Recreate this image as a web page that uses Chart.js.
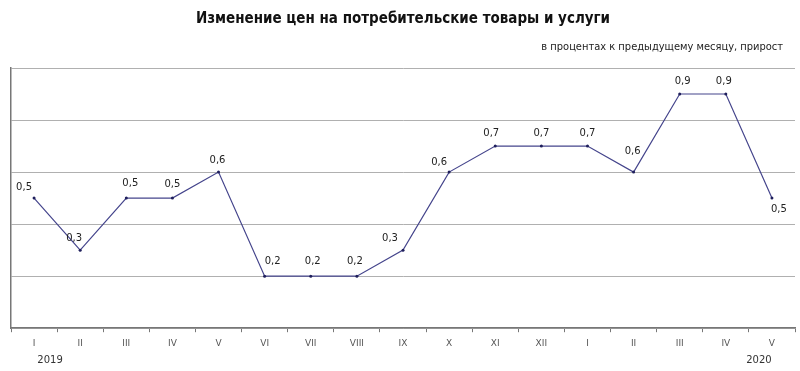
<!DOCTYPE html>
<html>
<head>
<meta charset="utf-8">
<script src="https://cdn.jsdelivr.net/npm/chart.js@4/dist/chart.umd.min.js"></script>
<style>
  body { margin: 0; background: #fff; }
  #wrap { width: 800px; height: 371px; }
</style>
</head>
<body>
<div id="wrap"><canvas id="priceChart"></canvas></div>
<script>
var months = ['I', 'II', 'III', 'IV', 'V', 'VI', 'VII', 'VIII', 'IX', 'X', 'XI', 'XII', 'I', 'II', 'III', 'IV', 'V'];
var priceGrowth = [0.5, 0.3, 0.5, 0.5, 0.6, 0.2, 0.2, 0.2, 0.3, 0.6, 0.7, 0.7, 0.7, 0.6, 0.9, 0.9, 0.5];
var years = ['2019', '2020'];
var yearStartIndex = [0, 16];

var titleText = 'Изменение цен на потребительские товары и услуги';
var subtitleText = 'в процентах к предыдущему месяцу, прирост';

// little nudges so the value labels sit like in the original
var labelDx = [-10, -6, 4, 0, -1, 8, 2, -2, -13, -10, -4, 0, 0, -1, 3, -2, 7];
var labelDy = [-11, -12, -15, -14, -12, -15, -15, -15, -12, -10, -13, -13, -13, -21, -13, -13, 11];

var valueLabels = {
  id: 'valueLabels',
  afterDatasetsDraw: function(chart){
    var ctx = chart.ctx;
    var meta = chart.getDatasetMeta(0);
    ctx.save();
    ctx.font = '10px "DejaVu Sans", Verdana, sans-serif';
    ctx.fillStyle = '#222';
    ctx.textAlign = 'center';
    ctx.textBaseline = 'middle';
    meta.data.forEach(function(pt, i){
      var txt = priceGrowth[i].toFixed(1).replace('.', ',');
      ctx.fillText(txt, pt.x + labelDx[i], pt.y + labelDy[i]);
    });

    // year captions under the month ticks
    var xs = chart.scales.x;
    ctx.fillStyle = '#333';
    var yearDx = [16, -13];
    years.forEach(function(y, k){
      ctx.fillText(y, xs.getPixelForValue(yearStartIndex[k]) + yearDx[k], 360);
    });

    // subtitle, right aligned a bit inside the plot edge
    ctx.font = '11px "Liberation Sans Narrow", "DejaVu Sans Condensed", Arial, sans-serif';
    ctx.fillStyle = '#222';
    ctx.textAlign = 'right';
    ctx.fillText(subtitleText, 783, 47);
    ctx.restore();
  }
};

function createChart(){
  var ctx = document.getElementById('priceChart').getContext('2d');
  new Chart(ctx, {
    type: 'line',
    data: {
      labels: months,
      datasets: [{
        data: priceGrowth,
        borderColor: '#45458c',
        borderWidth: 1.2,
        pointRadius: 1.5,
        pointBackgroundColor: '#1f1f5c',
        pointBorderColor: '#1f1f5c',
        pointBorderWidth: 0,
        tension: 0,
        fill: false
      }]
    },
    options: {
      responsive: true,
      maintainAspectRatio: false,
      animation: false,
      layout: { padding: { left: 11, right: 5, top: 2, bottom: 16 } },
      plugins: {
        legend: { display: false },
        tooltip: { enabled: false },
        title: {
          display: true,
          text: titleText,
          color: '#111',
          font: { family: '"Liberation Sans Narrow", "DejaVu Sans Condensed", Arial, sans-serif', size: 15, weight: 'bold' },
          padding: { top: 8, bottom: 40 }
        }
      },
      scales: {
        x: {
          offset: true,
          grid: { offset: true, drawOnChartArea: false, drawTicks: true, tickLength: 4, color: '#777' },
          border: { color: '#777', width: 1.5 },
          ticks: {
            color: '#555',
            font: { family: '"DejaVu Sans", Verdana, sans-serif', size: 9 },
            maxRotation: 0,
            autoSkip: false,
            padding: 6
          }
        },
        y: {
          min: 0,
          max: 1,
          ticks: { stepSize: 0.2, display: false },
          grid: { color: '#b0b0b0', drawTicks: false },
          border: { color: '#777', width: 1.5 }
        }
      }
    },
    plugins: [valueLabels]
  });
}

createChart();
</script>
</body>
</html>
